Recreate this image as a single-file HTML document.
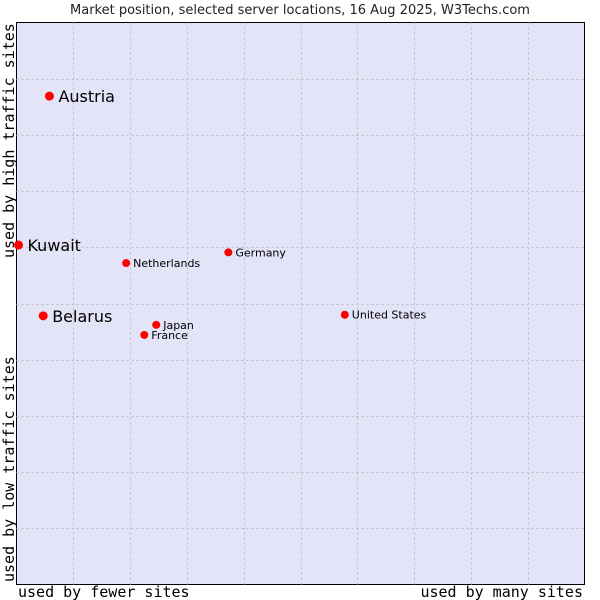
<!DOCTYPE html>
<html><head><meta charset="utf-8"><style>
body{margin:0;background:#fff;}
svg{display:block;font-family:"DejaVu Sans","Liberation Sans",sans-serif;}
.mono{font-family:"DejaVu Sans Mono","Liberation Mono",monospace;}
</style></head><body>
<svg id="chart" width="600" height="600">
<text x="300" y="14" text-anchor="middle" font-size="13" fill="#222">Market position, selected server locations, 16 Aug 2025, W3Techs.com</text>
<rect x="16.5" y="22.5" width="568" height="562" fill="#e4e4f8" stroke="#000"/>
<g id="grid"></g>
<g id="points"></g>
<text class="mono" x="18" y="597" font-size="15" fill="#000">used by fewer sites</text>
<text class="mono" x="583" y="597" font-size="15" text-anchor="end" fill="#000">used by many sites</text>
<text class="mono" transform="translate(14,258) rotate(-90)" font-size="15" fill="#000">used by high traffic sites</text>
<text class="mono" transform="translate(14,582) rotate(-90)" font-size="15" fill="#000">used by low traffic sites</text>
</svg>
<script>
const countries=["Austria","Kuwait","Netherlands","Germany","Belarus","Japan","France","United States"];
const usage=[5.8,0.35,19.3,37.3,4.7,24.6,22.5,57.8];
const traffic=[86.9,60.4,57.2,59.1,47.8,46.2,44.4,48.0];
const large=[true,true,false,false,true,false,false,false];
const X0=16.5,X1=584.5,Y0=584.5,Y1=22.5;
const xs=v=>X0+(X1-X0)*v/100, ys=v=>Y0-(Y0-Y1)*v/100;
const NS="http://www.w3.org/2000/svg";
const grid=document.getElementById('grid');
for(let i=1;i<10;i++){
  const gx=Math.round(xs(i*10))+0.5, gy=Math.round(ys(i*10))+0.5;
  const v=document.createElementNS(NS,'line');
  
  
  v.setAttribute('x1',gx);v.setAttribute('x2',gx);v.setAttribute('y1',Y1);v.setAttribute('y2',Y0);
  v.setAttribute('stroke','#bdbdbd');v.setAttribute('stroke-dasharray','2,3');
  grid.appendChild(v);
  const h=document.createElementNS(NS,'line');
  
  
  h.setAttribute('y1',gy);h.setAttribute('y2',gy);h.setAttribute('x1',X0);h.setAttribute('x2',X1);
  h.setAttribute('stroke','#bdbdbd');h.setAttribute('stroke-dasharray','2,3');
  grid.appendChild(h);
}
const pts=document.getElementById('points');
countries.forEach((c,i)=>{
  const cx=xs(usage[i]), cy=ys(traffic[i]);
  const p=document.createElementNS(NS,'circle');
  
  
  p.setAttribute('cx',cx);p.setAttribute('cy',cy);p.setAttribute('r',large[i]?4.5:4);p.setAttribute('fill','#f00');
  pts.appendChild(p);
  const t=document.createElementNS(NS,'text');
  
  
  t.setAttribute('x',cx+(large[i]?9:7));
  t.setAttribute('y',cy+(large[i]?6:4));
  t.setAttribute('font-size',large[i]?16:11);
  t.setAttribute('fill','#000');
  t.textContent=c;
  pts.appendChild(t);
});
</script>
</body></html>
